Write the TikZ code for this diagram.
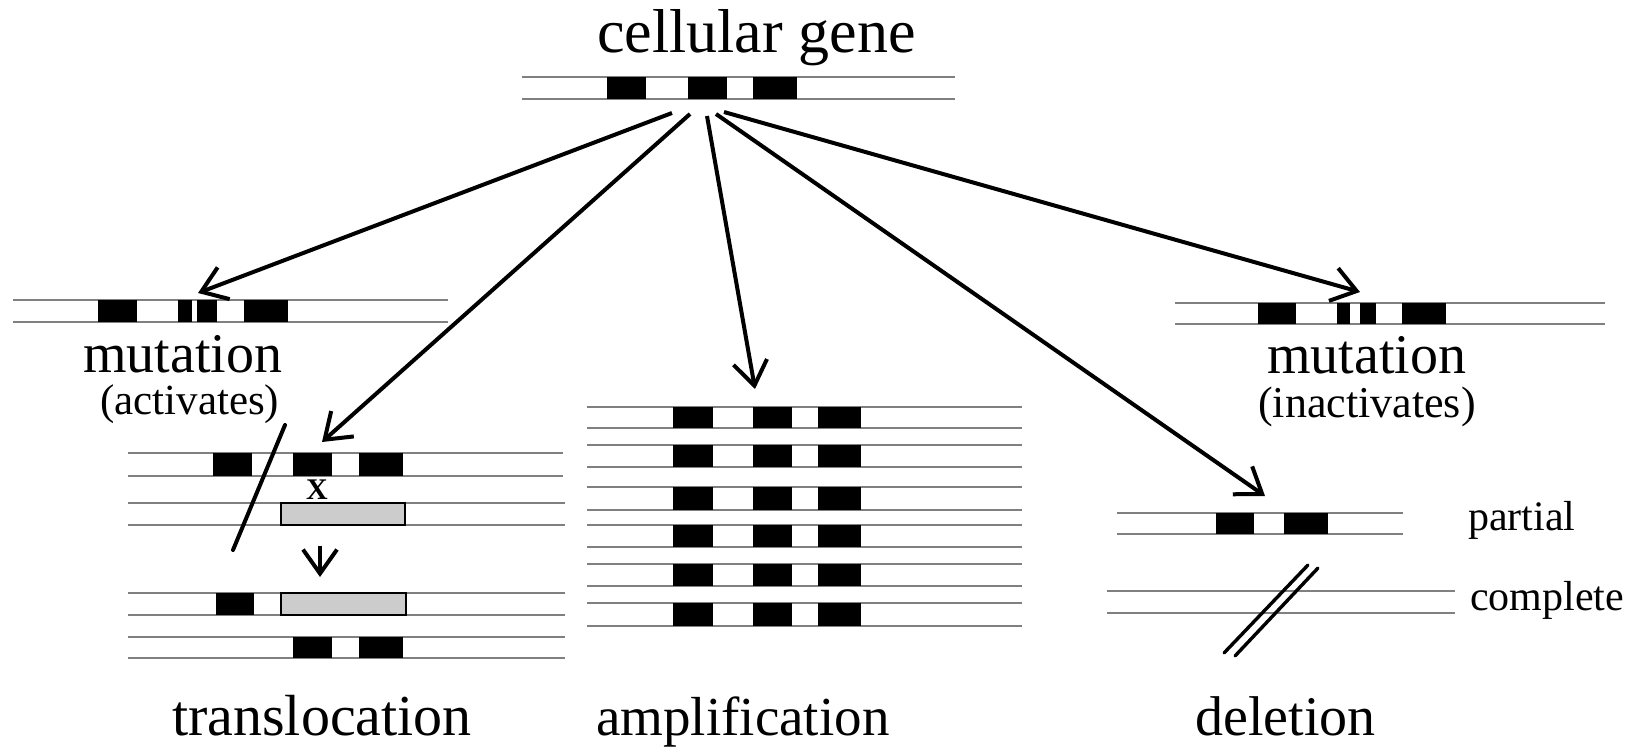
\documentclass[tikz,border=0pt]{standalone}
\usepackage{fontspec}
\setmainfont{Liberation Serif}
\usetikzlibrary{arrows.meta}
\newcommand\strandpair[4]{\draw[strand] (#1,#3) -- (#2,#3); \draw[strand] (#1,#4) -- (#2,#4);}
\newcommand\fsz[1]{\fontsize{#1}{#1}\selectfont}
\begin{document}
\begin{tikzpicture}[x=1pt,y=-1pt,
  strand/.style={draw=black!50,line width=1.2pt},
  exon/.style={fill=black},
  graybox/.style={fill=black!20,draw=black,line width=1.6pt},
  conn/.style={line width=4pt,-{Straight Barb[length=24pt,width=34pt,line width=4pt]}},
  cut/.style={line width=4pt,line cap=round},
  lbl/.style={anchor=base west,inner sep=0pt}]
\useasboundingbox (0,0) rectangle (1639,749);
\fill[white] (0,0) rectangle (1639,749);

% ---- top: cellular gene
\node[lbl] (title) at (597,53) {\fsz{62}cellular gene};
\strandpair{522}{955}{77}{99}
\fill[exon] (607,77) rectangle (646,99);
\fill[exon] (688,77) rectangle (727,99);
\fill[exon] (753,77) rectangle (797,99);

% ---- left mutation (activates)
\strandpair{13}{448}{300}{322}
\fill[exon] (98,300) rectangle (137,322);
\fill[exon] (178,300) rectangle (192,322);
\fill[exon] (197,300) rectangle (217,322);
\fill[exon] (244,300) rectangle (288,322);
\node[lbl] (mutA) at (83,372) {\fsz{56}mutation};
\node[lbl] (act) at (100,414) {\fsz{43}(activates)};

% ---- right mutation (inactivates)
\strandpair{1175}{1605}{303}{324}
\fill[exon] (1258,303) rectangle (1296,324);
\fill[exon] (1337,303) rectangle (1350,324);
\fill[exon] (1360,303) rectangle (1376,324);
\fill[exon] (1402,303) rectangle (1446,324);
\node[lbl] (mutI) at (1267,373) {\fsz{56}mutation};
\node[lbl] (inact) at (1258,417) {\fsz{44}(inactivates)};

% ---- translocation
\strandpair{128}{563}{453}{476}
\fill[exon] (213,453) rectangle (252,476);
\fill[exon] (293,453) rectangle (332,476);
\fill[exon] (359,453) rectangle (403,476);
\node[inner sep=0pt] (xmark) at (317,490) {\fsz{30}\textbf{X}};
\strandpair{128}{565}{503}{525}
\draw[graybox] (281,503) rectangle (405,525);
\coordinate (cutA) at (285,425);
\coordinate (cutB) at (233,550);
\draw[cut] (cutA) -- (cutB);
\coordinate (dnA) at (320,546);
\coordinate (dnB) at (320,577);
\draw[conn] (dnA) -- (dnB);
\strandpair{128}{565}{593}{615}
\fill[exon] (216,593) rectangle (254,615);
\draw[graybox] (281,593) rectangle (406,615);
\strandpair{128}{565}{637}{658}
\fill[exon] (293,637) rectangle (332,658);
\fill[exon] (359,637) rectangle (403,658);
\node[lbl] (transl) at (172,735) {\fsz{58}translocation};

% ---- amplification
\foreach \ya/\yb in {407/428,445/467,487/510,525/547,564/586,603/626}{
  \strandpair{587}{1022}{\ya}{\yb}
  \fill[exon] (673,\ya) rectangle (713,\yb);
  \fill[exon] (753,\ya) rectangle (792,\yb);
  \fill[exon] (818,\ya) rectangle (861,\yb);
}
\node[lbl] (ampl) at (596,735) {\fsz{55}amplification};

% ---- deletion
\strandpair{1117}{1403}{513}{534}
\fill[exon] (1216,513) rectangle (1254,534);
\fill[exon] (1284,513) rectangle (1328,534);
\node[lbl] (part) at (1468,530) {\fsz{42}partial};
\strandpair{1107}{1455}{591}{613}
\node[lbl] (comp) at (1470,610) {\fsz{42}complete};
\coordinate (dsA1) at (1224,653);
\coordinate (dsB1) at (1308,565);
\coordinate (dsA2) at (1235,656);
\coordinate (dsB2) at (1318,568);
\draw[cut,line width=3.4pt] (dsA1) -- (dsB1);
\draw[cut,line width=3.4pt] (dsA2) -- (dsB2);
\node[lbl] (del) at (1195,735) {\fsz{56}deletion};

% ---- connectors
\coordinate (s1) at (672,113);
\coordinate (s2) at (690,114);
\coordinate (s3) at (707,116);
\coordinate (s4) at (716,114);
\coordinate (s5) at (724,112);
\coordinate (t1) at (198,293);
\coordinate (t2) at (322,442);
\coordinate (t3) at (755,389);
\coordinate (t4) at (1265,496);
\coordinate (t5) at (1360,292);
\draw[conn] (s1) -- (t1);
\draw[conn] (s2) -- (t2);
\draw[conn] (s3) -- (t3);
\draw[conn] (s4) -- (t4);
\draw[conn] (s5) -- (t5);
\end{tikzpicture}
\end{document}
